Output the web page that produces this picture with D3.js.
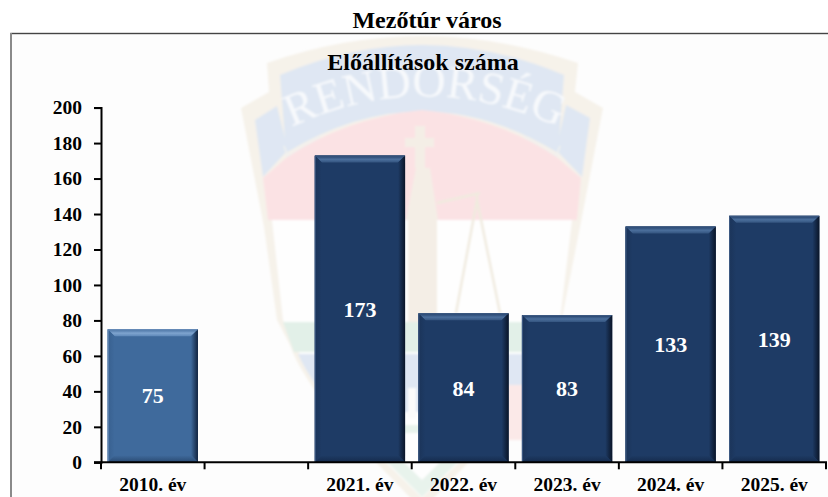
<!DOCTYPE html>
<html><head><meta charset="utf-8">
<style>html,body{margin:0;padding:0;background:#fff;overflow:hidden}svg{display:block}text{font-family:"Liberation Serif","Times New Roman",serif;font-weight:bold}</style>
<script src="https://cdnjs.cloudflare.com/ajax/libs/d3/7.8.5/d3.min.js"></script>
</head><body><svg id="c" width="828" height="497"></svg>
<script>
const categories=["2010. év","","2021. év","2022. év","2023. év","2024. év","2025. év"];
const values=[75,null,173,84,83,133,139];
const yTicks=[0,20,40,60,80,100,120,140,160,180,200];
const pageTitle="Mezőtúr város";
const chartTitle="Előállítások száma";
const badgeWord="RENDORSÉG";

const svg=d3.select("#c");
const defs=svg.append("defs");
function grad(id,x2,y2,stops){const g=defs.append("linearGradient").attr("id",id).attr("x1",0).attr("y1",0).attr("x2",x2).attr("y2",y2);
 stops.forEach(s=>g.append("stop").attr("offset",s[0]).attr("stop-color",s[1]));}
const palettes={dark:{face:"#1e3b65",edge:"#3f5c85",top:["#1f3b64","#4b6f9c","#34547f"],left:["#1b3459","#1e3b65"],right:["#1e3b65","#0a1528"],bottom:["#1e3b65","#152b4c"]},
 light:{face:"#3f6a9c",edge:"#6d92bc",top:["#3f6a9c","#7fa4cf","#5e88b8"],left:["#38608f","#3f6a9c"],right:["#3f6a9c","#11233f"],bottom:["#3f6a9c","#2a4a72"]}};
Object.entries(palettes).forEach(([k,p])=>{
 grad(k+"T",0,1,[[0,p.top[0]],[.55,p.top[1]],[1,p.top[2]]]);
 grad(k+"L",1,0,[[0,p.left[0]],[1,p.left[1]]]);
 grad(k+"R",1,0,[[0,p.right[0]],[1,p.right[1]]]);
 grad(k+"B",0,1,[[0,p.bottom[0]],[1,p.bottom[1]]]);
});
defs.append("filter").attr("id","soft").append("feGaussianBlur").attr("stdDeviation",0.9);

// frame
svg.append("rect").attr("x",11).attr("y",33.5).attr("width",830).attr("height",480).attr("fill","#fdfdfd").attr("stroke","#444").attr("stroke-width",1.4);
svg.append("line").attr("x1",11).attr("x2",11).attr("y1",33).attr("y2",497).attr("stroke","#8a8a8a").attr("stroke-width",2);

// faded badge behind the chart
const wm=svg.append("g").attr("id","badge").attr("filter","url(#soft)");
const blue="#dfe7f3", cream="#f6f2ea";
wm.append("path").attr("fill",cream).attr("d","M267 63 Q422 9 578 63 L575 92 L603 108 L580 227 L563 313 Q552 365 500 430 L422 510 L345 430 Q300 375 290 345 L277 320 L264 227 L241 108 L269 92 Z");
wm.append("path").attr("fill","#fefefe").attr("d","M272 220 L572 220 L560 320 L556 345 Q540 385 498 425 L422 498 L348 425 Q310 385 296 345 L283 320 Z");
wm.append("path").attr("fill",blue).attr("d","M255 120 L277 106 L288 150 L263 177 Z M590 118 L566 105 L556 150 L582 177 Z");
wm.append("path").attr("fill",blue).attr("d","M280 75 Q422 15 564 75 L558 153 Q422 70 286 153 Z");
wm.append("path").attr("fill","none").attr("stroke","#f0f1ef").attr("stroke-width",1.6).attr("d","M284 146 L288 157 M560 146 L556 157 M524 137 L558 157 M320 137 L286 157");
wm.append("path").attr("fill","#fbe2e4").attr("d","M263 178 L286 158 Q345 118 422 110 Q500 118 558 158 L581 178 L577 220 L268 220 Z");
wm.append("path").attr("fill","#e2f0e8").attr("d","M283 322 L561 322 L554 352 L294 352 Z");
wm.append("path").attr("fill",blue).attr("d","M298 354 L545 354 L528 385 L500 412 L340 412 Q312 385 298 354 Z");
wm.append("path").attr("fill","#fbe9e8").attr("d","M504 385 L545 385 L535 440 L504 440 Z");
wm.append("path").attr("fill","#e8f3ec").attr("d","M350 425 L496 425 L422 497 Z");
wm.append("path").attr("fill","#fefefe").attr("d","M374 433 L470 433 L422 480 Z");
wm.append("path").attr("fill","#fbfbfb").attr("d","M408 388 L416 388 L416 418 L408 418 Z");
wm.append("path").attr("fill","none").attr("stroke","#f0ebdf").attr("stroke-width",2.5).attr("d","M456 313 L477 200 L500 313 M437 203 L480 193 M477 193 L477 205");
wm.append("path").attr("fill","#f4eee6").attr("d","M408 220 L437 220 L437 322 L408 322 Z M416 168 L430 168 L438 220 L406 220 Z M415 126 L425 126 L425 138 L434 138 L434 147 L425 147 L425 168 L415 168 L415 147 L405 147 L405 138 L415 138 Z");
wm.append("path").attr("id","arc").attr("fill","none").attr("d","M296 125 Q424 68 554 125");
wm.append("text").style("font-family","'Liberation Serif',serif").style("font-weight","normal").attr("fill","#f7f9fc").attr("font-size",46)
 .append("textPath").attr("href","#arc").attr("startOffset","50%").attr("text-anchor","middle").text(badgeWord);

// scales
const x=d3.scaleBand().domain(d3.range(categories.length)).range([101,826]).paddingInner(.128).paddingOuter(.064);
const y=d3.scaleLinear().domain([0,200]).range([462.3,107.6]);

// bars
const bw=x.bandwidth(), bev=7;
const data=categories.map((c,i)=>({i,c,v:values[i]})).filter(d=>d.v!==null);
const bars=svg.selectAll("g.bar").data(data).join("g").attr("class","bar");
const pal=d=>d.i===0?"light":"dark";
function quad(sel,fn,fill){sel.append("polygon").attr("points",fn).attr("fill",fill);}
bars.append("rect").attr("x",d=>x(d.i)).attr("y",d=>y(d.v)).attr("width",bw).attr("height",d=>y(0)-y(d.v)).attr("fill",d=>palettes[pal(d)].face);
quad(bars,d=>{const a=x(d.i),b=a+bw,t=y(d.v);return `${a},${t} ${b},${t} ${b-bev},${t+bev} ${a+bev},${t+bev}`},d=>`url(#${pal(d)}T)`);
quad(bars,d=>{const a=x(d.i),t=y(d.v),u=y(0);return `${a},${t} ${a+bev},${t+bev} ${a+bev},${u-bev} ${a},${u}`},d=>`url(#${pal(d)}L)`);
quad(bars,d=>{const b=x(d.i)+bw,t=y(d.v),u=y(0);return `${b},${t} ${b-bev},${t+bev} ${b-bev},${u-bev} ${b},${u}`},d=>`url(#${pal(d)}R)`);
quad(bars,d=>{const a=x(d.i),b=a+bw,u=y(0);return `${a},${u} ${a+bev},${u-bev} ${b-bev},${u-bev} ${b},${u}`},d=>`url(#${pal(d)}B)`);
bars.append("path").attr("d",d=>{const a=x(d.i)+.5,b=a+bw-1,t=y(d.v)+.5,u=y(0);return `M${a} ${u}L${a} ${t}L${b} ${t}`}).attr("fill","none").attr("stroke",d=>palettes[pal(d)].edge).attr("stroke-width",1);
bars.append("text").attr("x",d=>x(d.i)+bw/2).attr("y",d=>(y(d.v)+y(0))/2).attr("dy","0.35em").attr("text-anchor","middle").attr("fill","#fff").attr("font-size",22).text(d=>d.v);

// axes
const yAxis=d3.axisLeft(y).tickValues(yTicks).tickSize(7).tickPadding(12);
const gy=svg.append("g").attr("transform","translate(101,0)").call(yAxis);
gy.selectAll("text").attr("font-size",19.5).attr("fill","#000").style("font-family","'Liberation Serif',serif").style("font-weight","bold");
const xEdges=d3.range(categories.length+1).map(i=>101+i*x.step());
const gx=svg.append("g").attr("transform",`translate(0,${y(0)})`);
gx.append("line").attr("x1",94).attr("x2",827).attr("stroke","#000").attr("stroke-width",2);
gx.selectAll("line.t").data(xEdges).join("line").attr("class","t").attr("x1",d=>d).attr("x2",d=>d).attr("y1",0).attr("y2",7).attr("stroke","#000").attr("stroke-width",2);
gy.selectAll("path,line").attr("stroke","#000").attr("stroke-width",2);
svg.selectAll("text.xl").data(categories).join("text").attr("class","xl").attr("x",(d,i)=>x(i)+bw/2).attr("y",491).attr("text-anchor","middle").attr("font-size",19.5).attr("fill","#000").text(d=>d);

// titles
svg.append("text").attr("x",427).attr("y",27.5).attr("text-anchor","middle").attr("font-size",24).attr("fill","#000").text(pageTitle);
svg.append("text").attr("x",423).attr("y",70).attr("text-anchor","middle").attr("font-size",24).attr("fill","#000").text(chartTitle);
</script></body></html>
